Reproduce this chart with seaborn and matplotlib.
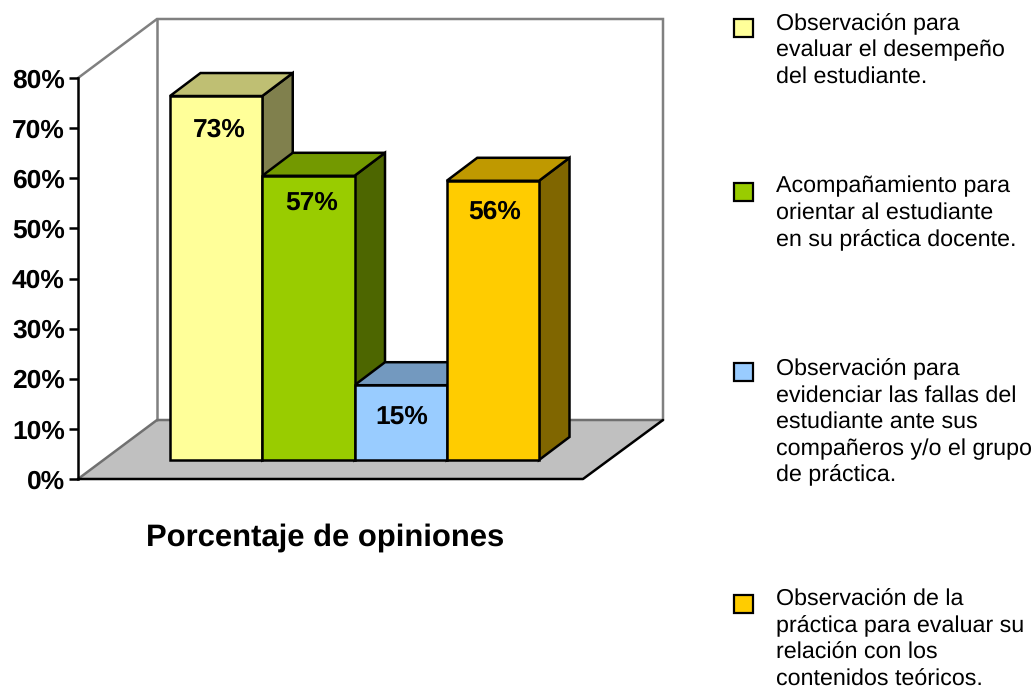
import matplotlib
matplotlib.use("Agg")
import matplotlib.pyplot as plt
from matplotlib.patches import Polygon, Rectangle
import pandas as pd
import seaborn as sns

sns.set_theme(style="white")
plt.rcParams["font.family"] = ["Liberation Sans", "DejaVu Sans"]
plt.rcParams["text.hinting"] = "none"

# ---- data ----
categories = [
    "Observación para\nevaluar el desempeño\ndel estudiante.",
    "Acompañamiento para\norientar al estudiante\nen su práctica docente.",
    "Observación para\nevidenciar las fallas del\nestudiante ante sus\ncompañeros y/o el grupo\nde práctica.",
    "Observación de la\npráctica para evaluar su\nrelación con los\ncontenidos teóricos.",
]
values = [73, 57, 15, 56]
colors = ["#FFFF99", "#99CC00", "#99CCFF", "#FFCC00"]
y_ticks = [0, 10, 20, 30, 40, 50, 60, 70, 80]
axis_title = "Porcentaje de opiniones"

# ---- layout (pixels) ----
W, H = 1036, 689
legend_key_tops = [18.5, 182.5, 362.5, 594.5]
legend_text_tops = [13, 176, 358, 589]
label_shift_px = [(3.5, -34), (3.5, -27), (1, -32), (2, -31)]
depth_px = (30.5, 23)


def frac(x0, y_top, x1, y_bottom):
    return [x0 / W, 1 - y_bottom / H, (x1 - x0) / W, (y_bottom - y_top) / H]


def shade(color, k):
    r, g, b = matplotlib.colors.to_rgb(color)
    return (r * k, g * k, b * k)


fig = plt.figure(figsize=(W / 100, H / 100), dpi=100, facecolor="white")

# Chart box and legend drawn in pixel space
bg = fig.add_axes([0, 0, 1, 1], zorder=0)
bg.set_xlim(0, W)
bg.set_ylim(H, 0)
bg.axis("off")
GRAY = "#808080"
LW = 1.8
bg.add_patch(Polygon([(78, 479), (583, 479), (663, 420), (157, 420)],
                     facecolor="#C0C0C0", edgecolor="none"))
bg.plot([78, 157, 663, 663], [78, 19, 19, 420], color=GRAY, lw=LW, solid_joinstyle="miter")
bg.plot([157, 157], [19, 420], color=GRAY, lw=LW)
bg.plot([78, 157, 663], [479, 420, 420], color="#707070", lw=LW)
bg.plot([78, 583, 663], [479, 479, 420], color="black", lw=LW)

for top_key, top_text, col, label in zip(legend_key_tops, legend_text_tops, colors, categories):
    bg.add_patch(Rectangle((734, top_key), 18.5, 18, facecolor=col, edgecolor="black", lw=1.6))
    bg.text(776, top_text, label, fontsize=16.75, color="black", va="top", ha="left", linespacing=1.31)

bg.text(325, 538, axis_title, fontsize=22.3, fontweight="bold", ha="center", va="center", color="black")

# Value axis at the front-left edge
axis = fig.add_axes(frac(78, 78, 79, 479), zorder=1)
axis.patch.set_visible(False)
axis.set_ylim(0, 80)
axis.set_xticks([])
axis.set_yticks(y_ticks)
axis.set_yticklabels([f"{t}%" for t in y_ticks], fontsize=19, fontweight="bold", color="black")
axis.tick_params(axis="y", left=True, length=6.5, width=LW, color="black", pad=3)
for side in ("top", "right", "bottom"):
    axis.spines[side].set_visible(False)
axis.spines["left"].set_linewidth(LW)
axis.spines["left"].set_color("black")

# Bars: the front faces come from seaborn, depth faces follow the same scales
ax = fig.add_axes(frac(170, 460 - 80 * 4.986, 539, 460), zorder=2)
ax.patch.set_visible(False)
df = pd.DataFrame({"cat": categories, "value": values})
sns.barplot(data=df, x="cat", y="value", hue="cat", palette=colors, width=1.0, dodge=False,
            edgecolor="black", linewidth=LW, legend=False, ax=ax, zorder=5, saturation=1)
ax.set_xlim(-0.5, 3.5)
ax.set_ylim(0, 80)
ax.axis("off")
for bar in ax.patches:
    bar.set_clip_on(False)

dx = depth_px[0] / (369 / 4)
dy = depth_px[1] / 4.986
for i, (v, col) in enumerate(zip(values, colors)):
    l, r = i - 0.5, i + 0.5
    ax.add_patch(Polygon([(r, 0), (r + dx, dy), (r + dx, v + dy), (r, v)], closed=True,
                         facecolor=shade(col, 0.5), edgecolor="black", lw=LW,
                         clip_on=False, zorder=2 + i * 0.1))
    ax.add_patch(Polygon([(l, v), (r, v), (r + dx, v + dy), (l + dx, v + dy)], closed=True,
                         facecolor=shade(col, 0.75), edgecolor="black", lw=LW,
                         clip_on=False, zorder=2 + i * 0.1 + 0.05))
    ax.annotate(f"{v}%", xy=(i, v), xytext=label_shift_px[i], textcoords="offset pixels",
                ha="center", va="center", fontsize=19, fontweight="bold", color="black", zorder=6)

fig.savefig("out.png", dpi=100, facecolor="white")
